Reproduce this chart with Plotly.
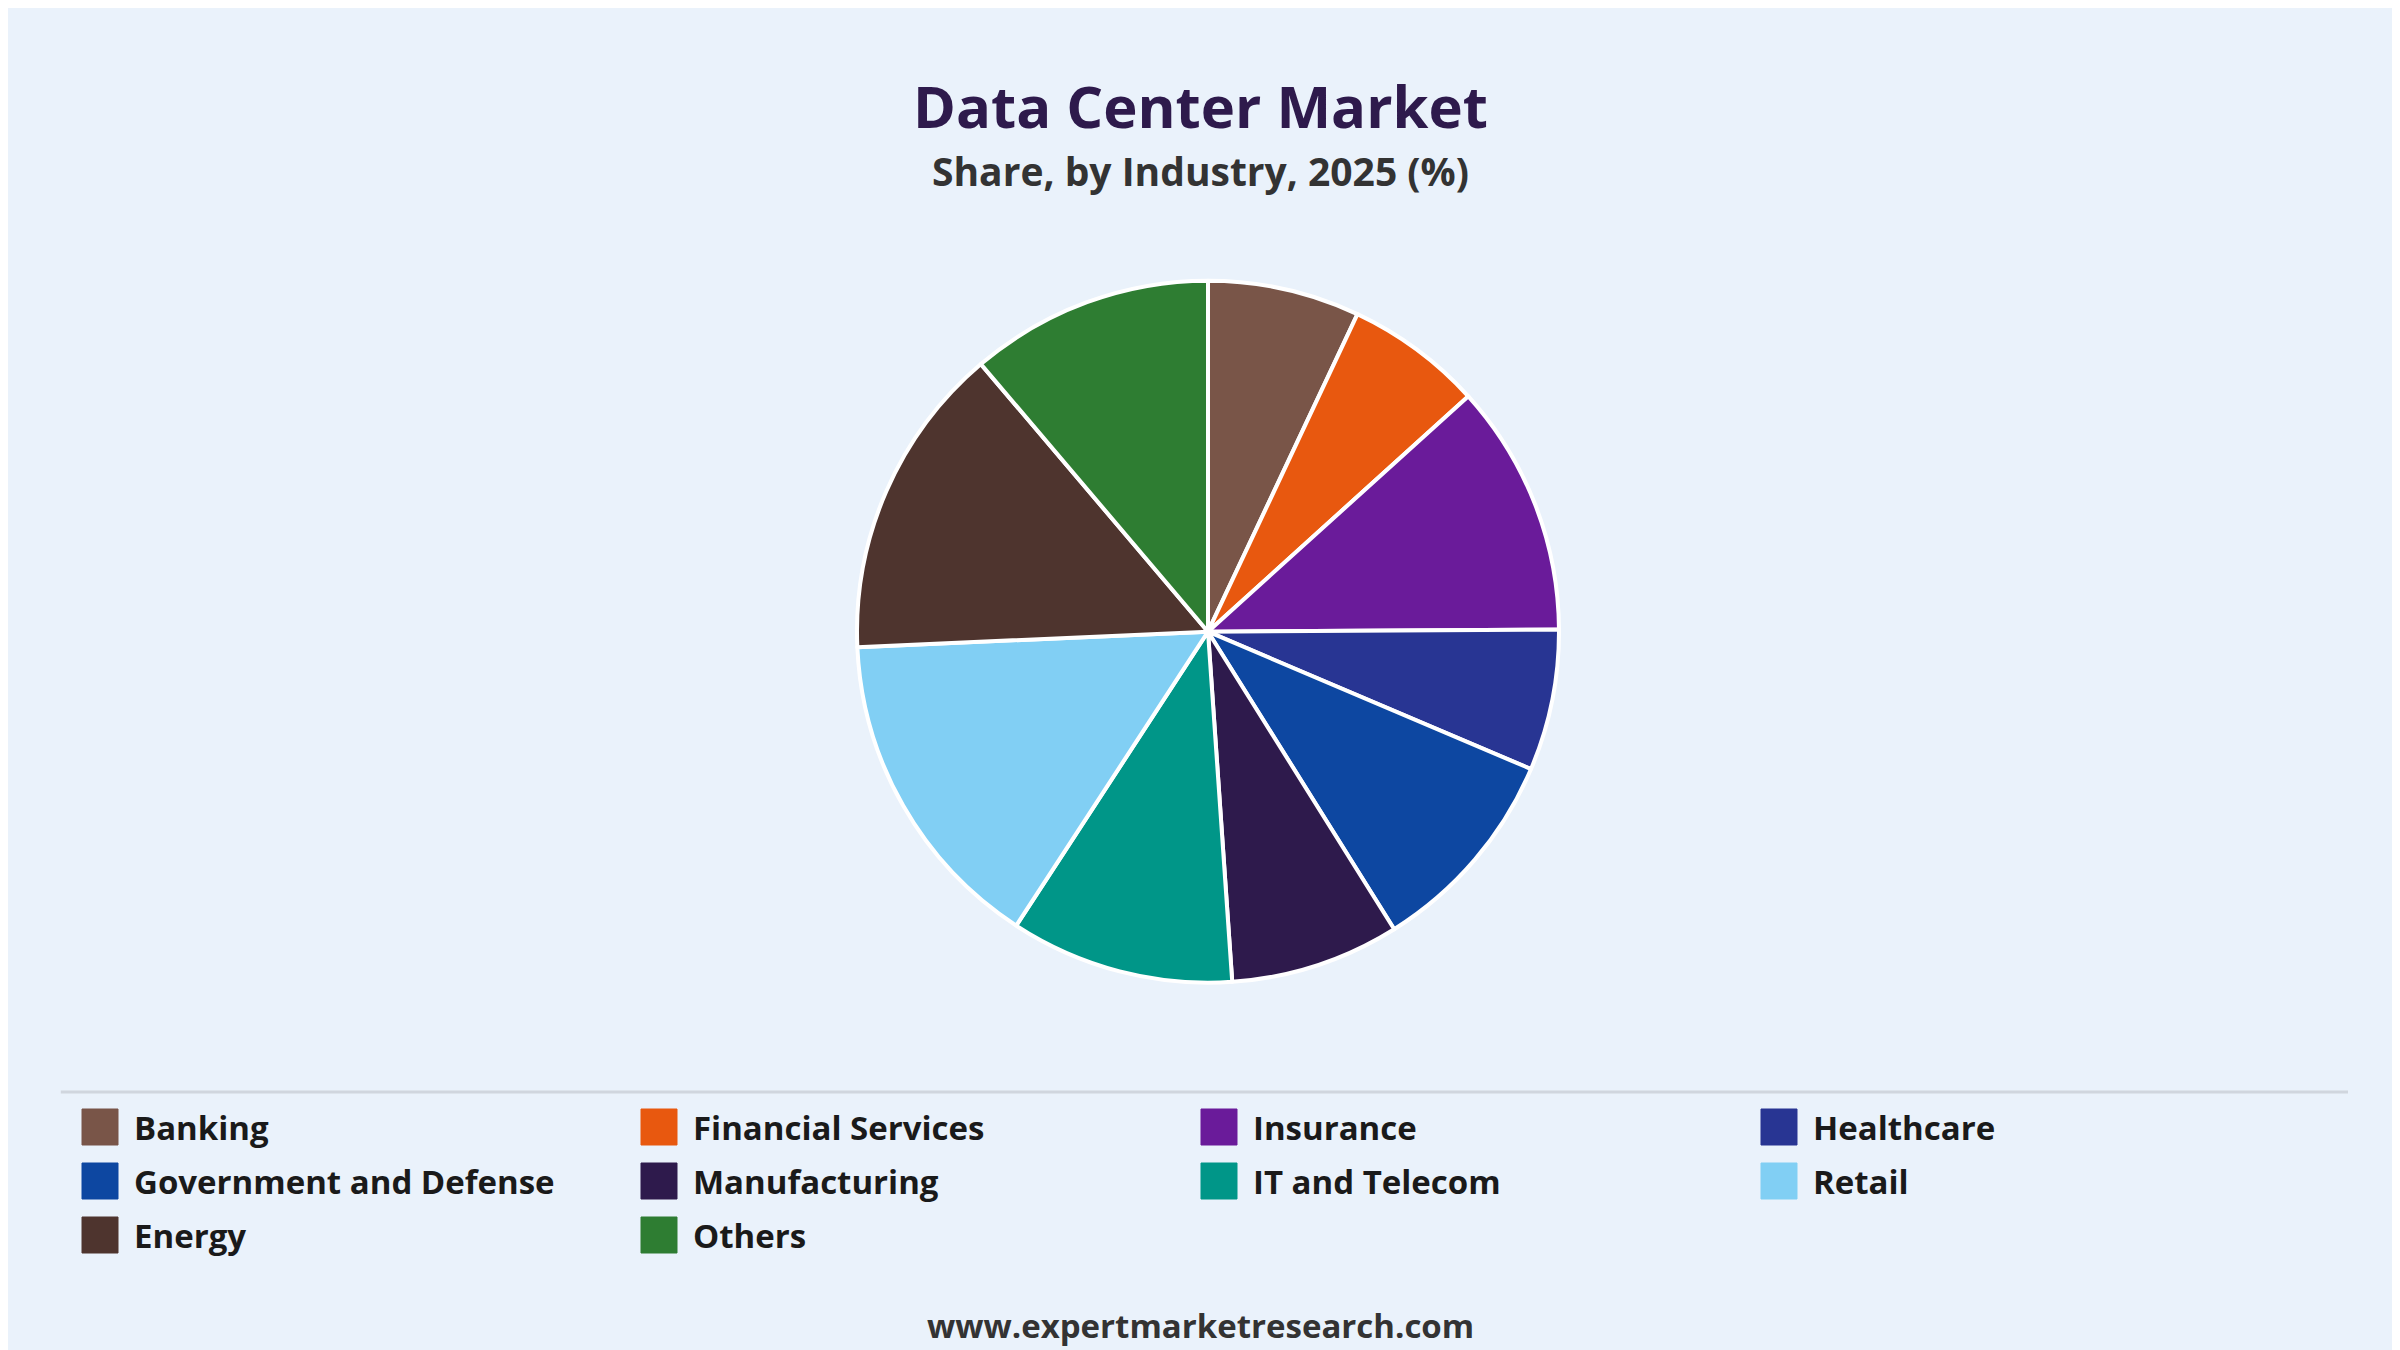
import plotly.graph_objects as go

# Data
industries = ["Banking", "Financial Services", "Insurance", "Healthcare",
              "Government and Defense", "Manufacturing", "IT and Telecom",
              "Retail", "Energy", "Others"]
shares = [7.0, 6.3, 11.6, 6.5, 9.7, 7.8, 10.3, 15.1, 14.5, 11.2]
colors = ["#795548", "#E8580F", "#6A1B9A", "#283593", "#0D47A1",
          "#2E1A4C", "#009688", "#81CFF4", "#4E342E", "#2E7D32"]

BG = "#EAF2FB"
FONT = "Open Sans"
W, H = 2400, 1350

fig = go.Figure(go.Pie(
    labels=industries,
    values=shares,
    sort=False,
    direction="clockwise",
    rotation=0,
    marker=dict(colors=colors, line=dict(color="white", width=4)),
    textinfo="none",
    showlegend=False,
    hovertemplate="%{label}: %{value}%<extra></extra>",
    domain=dict(x=[0, 1], y=[0.278, 0.798]),
))

def px_x(v):
    return v / W

def px_y(v):
    return 1 - v / H

annotations = [
    dict(text="<b>Data Center Market</b>", x=0.497, y=px_y(98),
         font=dict(size=58, color="#2E1A4C", family=FONT)),
    dict(text="<b>Share, by Industry, 2025 (%)</b>", x=0.497, y=px_y(163),
         font=dict(size=39, color="#333333", family=FONT)),
    dict(text="<b>www.expertmarketresearch.com</b>", x=0.497, y=px_y(1317),
         font=dict(size=33, color="#333333", family=FONT)),
]
for a in annotations:
    a.update(xref="paper", yref="paper", xanchor="center", yanchor="middle", showarrow=False)

shapes = [dict(type="line", xref="paper", yref="paper",
               x0=0.022, x1=0.975, y0=px_y(1084), y1=px_y(1084),
               line=dict(color="#D0D6DE", width=3))]

# custom legend: 4 columns of swatches + labels
col_x = [74, 633, 1193, 1753]
row_y = [1119, 1173, 1227]
sw = 36
for i, (name, c) in enumerate(zip(industries, colors)):
    x0 = col_x[i % 4]
    yc = row_y[i // 4]
    shapes.append(dict(type="rect", xref="paper", yref="paper",
                       x0=px_x(x0), x1=px_x(x0 + sw),
                       y0=px_y(yc + sw / 2), y1=px_y(yc - sw / 2),
                       fillcolor=c, line=dict(color=c, width=1)))
    annotations.append(dict(text=f"<b>{name}</b>", xref="paper", yref="paper",
                            x=px_x(x0 + sw + 14), y=px_y(yc),
                            xanchor="left", yanchor="middle", showarrow=False,
                            font=dict(size=33, color="#1a1a1a", family=FONT)))

fig.update_layout(
    width=W, height=H,
    paper_bgcolor=BG, plot_bgcolor=BG,
    margin=dict(l=0, r=0, t=0, b=0),
    font=dict(family=FONT),
    annotations=annotations,
    shapes=shapes,
)

fig.write_html("out.html")
